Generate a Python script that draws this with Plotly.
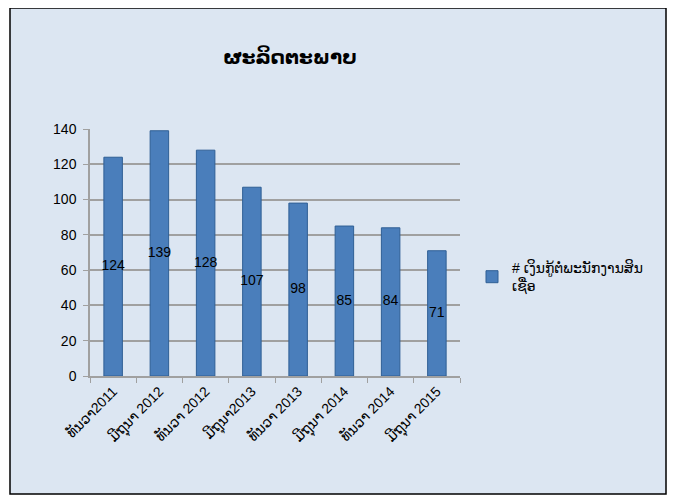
import plotly.graph_objects as go

categories = ["ທັນວາ2011", "ມີຖຸນາ 2012", "ທັນວາ 2012", "ມີຖຸນາ2013",
              "ທັນວາ 2013", "ມີຖຸນາ 2014", "ທັນວາ 2014", "ມີຖຸນາ 2015"]
values = [124, 139, 128, 107, 98, 85, 84, 71]
series_name = "# ເງິນກູ້ຕໍ່ພະນັກງານສິນ<br>ເຊື່ອ"
title_text = "ຜະລິດຕະພາບ"
y_ticks = [0, 20, 40, 60, 80, 100, 120, 140]

FONT = "Liberation Sans, DejaVu Sans, sans-serif"

# page body has an 8px margin; work in screenshot pixels and shift
OFF = 8
W, H = 675 - OFF, 504 - OFF
L, R, T, B = 90, 460, 129, 376
pw, ph = R - L, B - T


def px(x):
    return (x - L) / pw


def py(y):
    return (B - y) / ph


fig = go.Figure()
fig.add_trace(go.Bar(
    x=categories, y=values, name=series_name,
    marker=dict(color="#4a7ebb", line=dict(color="#2f5f95", width=1)),
    width=0.4,
    showlegend=True,
))
fig.add_trace(go.Scatter(
    x=categories, y=[v / 2 for v in values],
    text=[str(v) for v in values], mode="text",
    textposition="middle center",
    textfont=dict(color="black", size=14, family=FONT),
    showlegend=False, hoverinfo="skip",
))

fig.add_shape(type="rect", xref="paper", yref="paper",
              x0=px(10), x1=px(666), y0=py(494), y1=py(8),
              line=dict(color="black", width=1.5),
              fillcolor="#dce6f2", layer="below")

fig.update_layout(
    width=W, height=H,
    margin=dict(l=L - OFF, r=W - (R - OFF), t=T - OFF, b=H - (B - OFF),
                autoexpand=False),
    paper_bgcolor="white", plot_bgcolor="rgba(0,0,0,0)",
    title=dict(text=title_text, x=px(290), xref="paper", xanchor="center",
               y=1 - (57 - OFF) / H, yanchor="middle",
               font=dict(size=20, color="black", family=FONT, weight="bold")),
    font=dict(family=FONT, size=14, color="black"),
    legend=dict(x=px(472), y=py(252), xanchor="left", yanchor="top",
                bgcolor="rgba(0,0,0,0)", font=dict(size=14),
                itemwidth=30),
    bargap=0.6,
)
fig.update_yaxes(range=[0, 140], tickvals=y_ticks, showgrid=True,
                 gridcolor="#a0a0a0", gridwidth=1.5,
                 showline=True, linecolor="#a0a0a0", linewidth=1.5,
                 ticks="outside", ticklen=5, tickcolor="#a0a0a0",
                 ticklabelstandoff=4,
                 zeroline=False, tickfont=dict(size=14))
fig.update_xaxes(showgrid=False, showline=True, linecolor="#a0a0a0",
                 linewidth=1.5, ticks="outside", ticklen=5,
                 tickcolor="#a0a0a0", tickson="boundaries",
                 tickangle=-45, tickfont=dict(size=14))

fig.write_html("out.html")
